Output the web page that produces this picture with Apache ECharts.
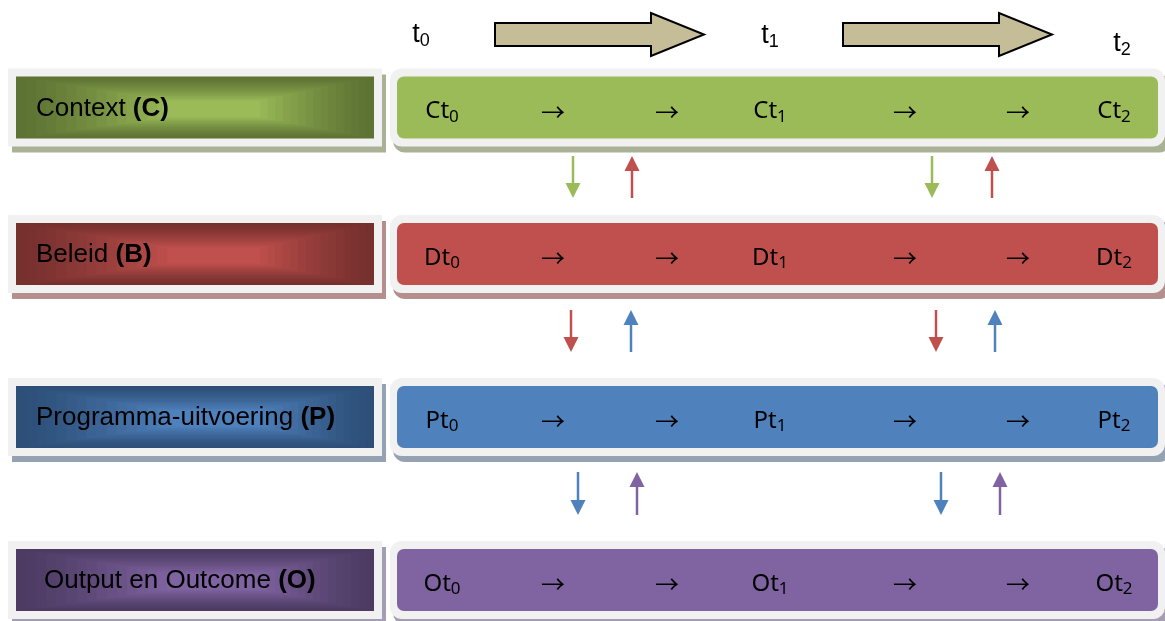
<!DOCTYPE html>
<html>
<head>
<meta charset="utf-8">
<script src="https://cdn.jsdelivr.net/npm/echarts@6/dist/echarts.min.js"></script>
<style>
html,body{margin:0;padding:0;background:#ffffff;}
#chart{width:1165px;height:621px;}
</style>
</head>
<body>
<div id="chart"></div>
<script>
// ---------------- data ----------------
const rowNames = ['Context', 'Beleid', 'Programma-uitvoering', 'Output en Outcome'];
const rowCodes = ['C', 'B', 'P', 'O'];
const nodePrefixes = ['C', 'D', 'P', 'O'];
const timeBase = ['t', 't', 't'];
const timeSubs = ['0', '1', '2'];
const stepSymbol = '→';
const stepsPerInterval = 2;
const intervals = ['t0-t1', 't1-t2'];
const influenceDirs = ['down', 'up'];   // down: upper row -> lower row, up: lower row -> upper row

// ---------------- colours ----------------
const rowColors = ['#9bbb59', '#c0504d', '#4f81bd', '#8064a2'];
const rowDark = ['#5d7333', '#76302e', '#2d4f78', '#4d3b63'];
const rowShadow = ['#a9b294', '#b38f8e', '#95a2b4', '#a59db1'];
const panelBorder = '#f1f1f1';
const timeArrowFill = '#c4bd97';

// ---------------- layout (pixel units through hidden value axes) ----------------
const L = {
  rowCenter: [107.5, 254, 417, 580],
  innerHalf: 31,
  outerHalf: 39,
  leftBox: { x0: 8, x1: 382, pad: 8 },
  rightBox: { x0: 390, x1: 1165, pad: 7 },
  shadow: { dx: 4, dy: 6 },
  textIndent: [36, 36, 36, 44],
  slotX: [442, 553, 667, 770, 905, 1018, 1114],
  timeX: [421, 770, 1122],
  timeY: [35, 36, 44],
  timeArrows: [[495, 651, 704], [843, 999, 1052]],
  timeShaft: [23, 46],
  timeHead: [13, 56],
  gapArrowY: [[156, 198], [310, 352], [472, 515]],
  gapArrowX: [[573, 632, 932, 992], [571, 631, 936, 995], [578, 637, 941, 1000]]
};

const NODE_FONT = "'Noto Sans', 'DejaVu Sans', sans-serif";
const ARROW_FONT = "'Noto Sans CJK SC', 'DejaVu Sans', sans-serif";
const LABEL_FONT = "'Liberation Sans', Arial, sans-serif";

function hexToRgb(h) {
  const n = parseInt(h.slice(1), 16);
  return [(n >> 16) & 255, (n >> 8) & 255, n & 255];
}
function mix(a, b, t) {
  const A = hexToRgb(a), B = hexToRgb(b);
  const c = A.map((v, i) => Math.round(v + (B[i] - v) * t));
  return 'rgb(' + c.join(',') + ')';
}

// build data tables from the arrays
const panelData = rowNames.map((n, i) => [i, 0]);
const nodeData = [];
rowNames.forEach((n, r) => {
  let slot = 0;
  timeSubs.forEach((s, ti) => {
    nodeData.push([r, slot++, 1, ti]);
    if (ti < timeSubs.length - 1) {
      for (let k = 0; k < stepsPerInterval; k++) nodeData.push([r, slot++, 0, ti]);
    }
  });
});
const influenceData = [];
for (let g = 0; g < rowNames.length - 1; g++) {
  intervals.forEach((iv, k) => {
    influenceDirs.forEach((d, di) => influenceData.push([g, k, di]));
  });
}
const timeLabelData = timeSubs.map((s, i) => [i, 0]);
const timeArrowData = intervals.map((s, i) => [i, 0]);

function rectFrom(api, x0, y0, x1, y1, r) {
  const a = api.coord([x0, y0]), b = api.coord([x1, y1]);
  const s = { x: a[0], y: a[1], width: b[0] - a[0], height: b[1] - a[1] };
  if (r) s.r = r;
  return s;
}

function renderPanel(params, api) {
  const i = api.value(0);
  const c = L.rowCenter[i];
  const oh = L.outerHalf, ih = L.innerHalf;
  const lb = L.leftBox, rb = L.rightBox, sh = L.shadow;
  const children = [];
  // left box
  children.push({ type: 'rect', shape: rectFrom(api, lb.x0 + sh.dx, c - oh + sh.dy, lb.x1 + sh.dx, c + oh + sh.dy), style: { fill: rowShadow[i] } });
  children.push({ type: 'rect', shape: rectFrom(api, lb.x0, c - oh, lb.x1, c + oh), style: { fill: panelBorder } });
  const ix0 = lb.x0 + lb.pad, ix1 = lb.x1 - lb.pad, iy0 = c - ih, iy1 = c + ih;
  const fx = ix0 + 0.57 * (ix1 - ix0), fy = c + 2;
  const N = 16, k = 0.74;
  for (let s = 0; s < N; s++) {
    const t = s / (N - 1);
    const x0 = ix0 + t * k * (fx - ix0), x1 = ix1 - t * k * (ix1 - fx);
    const y0 = iy0 + t * k * (fy - iy0), y1 = iy1 - t * k * (iy1 - fy);
    children.push({ type: 'rect', shape: rectFrom(api, x0, y0, x1, y1), style: { fill: mix(rowDark[i], rowColors[i], Math.pow(t, 1.3)) } });
  }
  const tp = api.coord([L.textIndent[i], c + 1]);
  children.push({
    type: 'text',
    style: {
      x: tp[0], y: tp[1],
      text: '{n|' + rowNames[i] + ' }{b|(' + rowCodes[i] + ')}',
      align: 'left', verticalAlign: 'middle',
      rich: {
        n: { fontSize: 26, fontFamily: LABEL_FONT, fill: '#000000' },
        b: { fontSize: 26, fontFamily: LABEL_FONT, fontWeight: 'bold', fill: '#000000' }
      }
    }
  });
  // right box
  children.push({ type: 'rect', shape: rectFrom(api, rb.x0 + 3, c - oh + sh.dy, rb.x1 + 6, c + oh + sh.dy, 12), style: { fill: rowShadow[i] } });
  children.push({ type: 'rect', shape: rectFrom(api, rb.x0, c - oh, rb.x1, c + oh, 12), style: { fill: panelBorder } });
  children.push({ type: 'rect', shape: rectFrom(api, rb.x0 + rb.pad, c - ih, rb.x1 - rb.pad, c + ih, 7), style: { fill: rowColors[i] } });
  return { type: 'group', children: children };
}

function renderNode(params, api) {
  const r = api.value(0), slot = api.value(1), isNode = api.value(2), ti = api.value(3);
  const c = L.rowCenter[r];
  const pt = api.coord([L.slotX[slot], c + 4]);
  if (isNode) {
    return {
      type: 'text',
      style: {
        x: pt[0], y: pt[1],
        text: '{m|' + nodePrefixes[r] + 't}{s|' + timeSubs[ti] + '}',
        align: 'center', verticalAlign: 'middle',
        rich: {
          m: { fontSize: 24, fontFamily: NODE_FONT, fill: '#000000', lineHeight: 28 },
          s: { fontSize: 17, fontFamily: NODE_FONT, fill: '#000000', verticalAlign: 'bottom' }
        }
      }
    };
  }
  return {
    type: 'text',
    style: {
      x: pt[0], y: pt[1], text: stepSymbol, align: 'center', verticalAlign: 'middle',
      fontSize: 24, fontFamily: ARROW_FONT, fill: '#000000'
    }
  };
}

function renderInfluence(params, api) {
  const g = api.value(0), k = api.value(1), d = api.value(2);
  const x = L.gapArrowX[g][k * 2 + d];
  const ys = L.gapArrowY[g];
  const color = d === 0 ? rowColors[g] : rowColors[g + 1];
  const tipY = d === 0 ? ys[1] : ys[0];
  const tailY = d === 0 ? ys[0] : ys[1];
  const headLen = 15, headHalf = 7.5;
  const baseY = d === 0 ? tipY - headLen : tipY + headLen;
  const tail = api.coord([x, tailY]), base = api.coord([x, baseY]);
  const tip = api.coord([x, tipY]);
  const bl = api.coord([x - headHalf, baseY]), br = api.coord([x + headHalf, baseY]);
  return {
    type: 'group',
    children: [
      { type: 'line', shape: { x1: tail[0], y1: tail[1], x2: base[0], y2: base[1] }, style: { stroke: color, lineWidth: 2.5 } },
      { type: 'polygon', shape: { points: [tip, bl, br] }, style: { fill: color } }
    ]
  };
}

function renderTimeLabel(params, api) {
  const i = api.value(0);
  const pt = api.coord([L.timeX[i], L.timeY[i]]);
  return {
    type: 'text',
    style: {
      x: pt[0], y: pt[1],
      text: '{m|' + timeBase[i] + '}{s|' + timeSubs[i] + '}',
      align: 'center', verticalAlign: 'middle',
      rich: {
        m: { fontSize: 27, fontFamily: LABEL_FONT, fill: '#000000', lineHeight: 30 },
        s: { fontSize: 18, fontFamily: LABEL_FONT, fill: '#000000', verticalAlign: 'bottom' }
      }
    }
  };
}

function renderTimeArrow(params, api) {
  const i = api.value(0);
  const a = L.timeArrows[i];
  const s = L.timeShaft, h = L.timeHead;
  const midY = (h[0] + h[1]) / 2;
  const pts = [[a[0], s[0]], [a[1], s[0]], [a[1], h[0]], [a[2], midY], [a[1], h[1]], [a[1], s[1]], [a[0], s[1]]]
    .map(p => api.coord(p));
  return { type: 'polygon', shape: { points: pts }, style: { fill: timeArrowFill, stroke: '#000000', lineWidth: 2, lineJoin: 'miter' } };
}

const chart = echarts.init(document.getElementById('chart'), null, { renderer: 'canvas' });
chart.setOption({
  animation: false,
  backgroundColor: '#ffffff',
  grid: { left: 0, right: 0, top: 0, bottom: 0 },
  xAxis: { type: 'value', min: 0, max: 1165, show: false },
  yAxis: { type: 'value', min: 0, max: 621, inverse: true, show: false },
  series: [
    { type: 'custom', name: 'panels', renderItem: renderPanel, data: panelData, clip: false, silent: true },
    { type: 'custom', name: 'nodes', renderItem: renderNode, data: nodeData, clip: false, silent: true },
    { type: 'custom', name: 'influence', renderItem: renderInfluence, data: influenceData, clip: false, silent: true },
    { type: 'custom', name: 'timeArrows', renderItem: renderTimeArrow, data: timeArrowData, clip: false, silent: true },
    { type: 'custom', name: 'timeLabels', renderItem: renderTimeLabel, data: timeLabelData, clip: false, silent: true }
  ]
});
</script>
</body>
</html>
